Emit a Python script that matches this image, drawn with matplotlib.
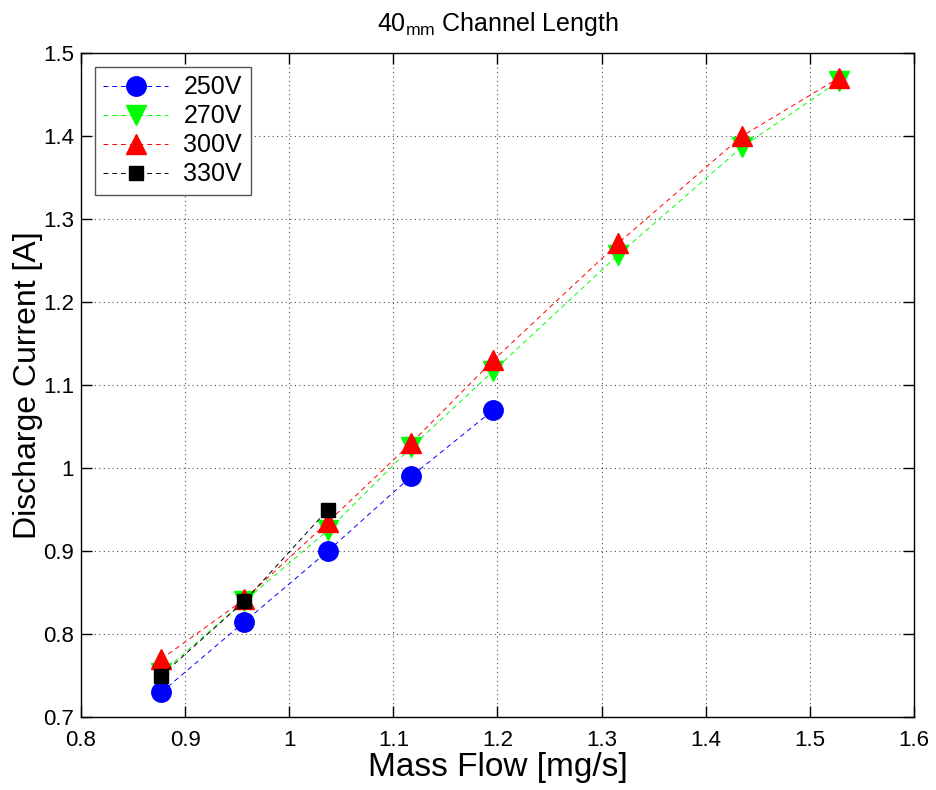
import numpy as np
import matplotlib
matplotlib.use("Agg")
import matplotlib.pyplot as plt

plt.rcParams['font.family'] = ['Liberation Sans', 'DejaVu Sans']

# mass flow [mg/s]
flow = [0.877, 0.957, 1.037, 1.117, 1.196, 1.316, 1.435, 1.528]

# discharge current [A] per voltage
i_250 = [0.73, 0.815, 0.90, 0.99, 1.07]
i_270 = [0.753, 0.84, 0.925, 1.025, 1.117, 1.257, 1.387, 1.466]
i_300 = [0.77, 0.842, 0.935, 1.03, 1.13, 1.271, 1.40, 1.47]
i_330 = [0.75, 0.84, 0.95]

fig = plt.figure(figsize=(9.36, 7.9), dpi=100)
ax = fig.add_axes([0.0865, 0.092, 0.89, 0.841])

dash = (5, 4)
ax.plot(flow[:len(i_250)], i_250, '--', color='blue', lw=0.7, dashes=dash,
        marker='o', ms=14, mfc='blue', mec='blue', label='250V')
ax.plot(flow[:len(i_270)], i_270, '--', color='#00ff00', lw=0.7, dashes=dash,
        marker='v', ms=14, mfc='#00ff00', mec='#00ff00', label='270V')
ax.plot(flow[:len(i_300)], i_300, '--', color='red', lw=0.7, dashes=dash,
        marker='^', ms=14, mfc='red', mec='red', label='300V')
ax.plot(flow[:len(i_330)], i_330, '--', color='black', lw=0.7, dashes=dash,
        marker='s', ms=10, mfc='black', mec='black', label='330V')

ax.set_xlim(0.8, 1.6)
ax.set_ylim(0.7, 1.5)
ax.set_xticks(np.arange(0.8, 1.61, 0.1))
ax.set_yticks(np.arange(0.7, 1.51, 0.1))
ax.set_xticklabels(['0.8', '0.9', '1', '1.1', '1.2', '1.3', '1.4', '1.5', '1.6'])
ax.set_yticklabels(['0.7', '0.8', '0.9', '1', '1.1', '1.2', '1.3', '1.4', '1.5'])
ax.tick_params(direction='in', length=8, width=1, top=True, right=True,
               labelsize=16)
ax.tick_params(axis='x', pad=9)
ax.tick_params(axis='y', pad=5)
ax.grid(True, linestyle=(0, (1, 3)), color='black', lw=0.8, alpha=0.7)
for s in ax.spines.values():
    s.set_linewidth(1)

ax.set_xlabel('Mass Flow [mg/s]', fontsize=24, labelpad=1)
ax.set_ylabel('Discharge Current [A]', fontsize=23, labelpad=0)
ax.set_title('40$_{\\mathregular{mm}}$ Channel Length', fontsize=18, pad=16)

leg = ax.legend(loc='upper left', fontsize=18, fancybox=False, framealpha=1,
                edgecolor='#555555', borderpad=0.35, labelspacing=0.2,
                handlelength=2.6, handletextpad=0.6, borderaxespad=0.55)
leg.get_frame().set_linewidth(1)

fig.savefig('out.png', dpi=100)
